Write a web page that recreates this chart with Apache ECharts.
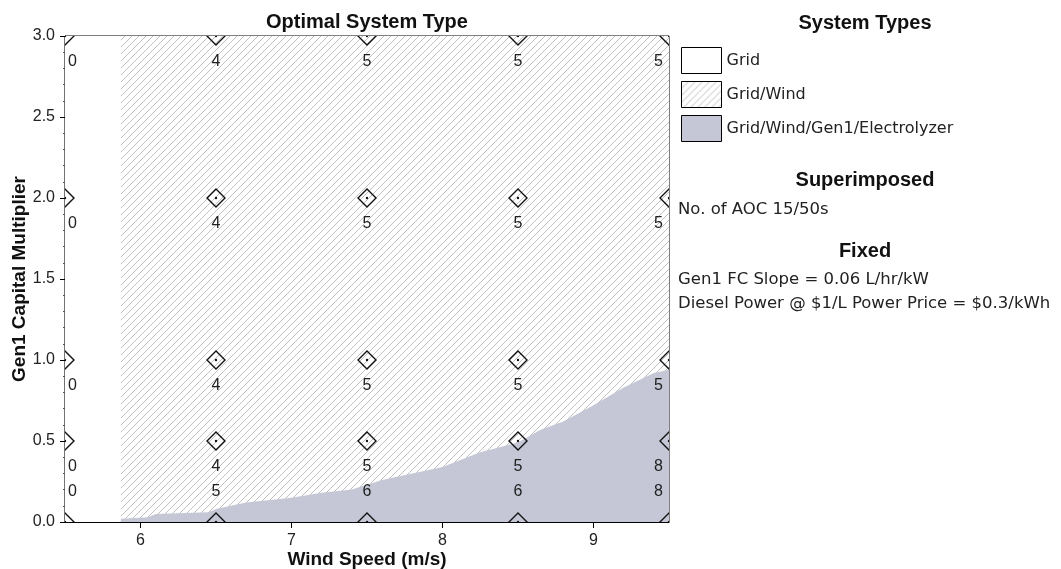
<!DOCTYPE html>
<html>
<head>
<meta charset="utf-8">
<script src="https://cdn.jsdelivr.net/npm/echarts@6/dist/echarts.min.js"></script>
<style>html,body{margin:0;padding:0;background:#fff;}#c{width:1061px;height:569px;}</style>
</head>
<body>
<div id="c"></div>
<script>
// ---- data ----
const windSpeeds = [5.5, 6.5, 7.5, 8.5, 9.5];           // sensitivity grid, m/s
const capMultipliers = [0.0, 0.5, 1.0, 2.0, 3.0];        // Gen1 capital multiplier rows
const aocRow00 = [0, 5, 6, 6, 8];
const aocRow05 = [0, 4, 5, 5, 8];
const aocRow10 = [0, 4, 5, 5, 5];
const aocRow20 = [0, 4, 5, 5, 5];
const aocRow30 = [0, 4, 5, 5, 5];
const aocRows = [aocRow00, aocRow05, aocRow10, aocRow20, aocRow30];

const gridOnlyWind = [5.5, 5.87];
const gridOnlyTop = [3.0, 3.0];
const gridWindWind = [5.87, 9.5];
const gridWindTop = [3.0, 3.0];
// upper boundary of the Grid/Wind/Gen1/Electrolyzer region
const elecWind = [5.87, 6.05, 6.1, 6.45, 6.5, 6.7, 7.0, 7.2, 7.4, 7.6, 7.8, 8.0, 8.25, 8.5, 8.65, 8.8, 9.0, 9.2, 9.4, 9.5];
const elecTop  = [0.02, 0.03, 0.05, 0.06, 0.08, 0.12, 0.15, 0.18, 0.2, 0.26, 0.3, 0.34, 0.43, 0.49, 0.57, 0.62, 0.72, 0.83, 0.92, 0.94];

const FONT = '"Liberation Sans", Arial, sans-serif';
const TFONT = '"DejaVu Sans", "Liberation Sans", sans-serif';

function zip(a, b) { return a.map((v, i) => [v, b[i]]); }

function hatchCanvas() {
  const s = 7, c = document.createElement('canvas');
  c.width = s; c.height = s;
  const g = c.getContext('2d');
  g.fillStyle = '#ffffff'; g.fillRect(0, 0, s, s);
  g.strokeStyle = '#b0b0b0'; g.lineWidth = 0.8;
  g.beginPath();
  g.moveTo(0, s); g.lineTo(s, 0);
  g.moveTo(-1, 1); g.lineTo(1, -1);
  g.moveTo(s - 1, s + 1); g.lineTo(s + 1, s - 1);
  g.stroke();
  return c;
}
const hatch = { image: hatchCanvas(), repeat: 'repeat' };
const elecColor = '#c5c7d6';

const pointData = [];
capMultipliers.forEach((y, r) => {
  windSpeeds.forEach((x, i) => pointData.push([x, y, aocRows[r][i]]));
});

const xMin = 5.5, xMax = 9.5;

const chart = echarts.init(document.getElementById('c'), null, { renderer: 'canvas' });
chart.setOption({
  animation: false,
  backgroundColor: '#fff',
  grid: { left: 65, right: 392, top: 36, bottom: 47, outerBoundsMode: 'none', containLabel: false,
          show: true, borderColor: '#000', borderWidth: 1, backgroundColor: '#fff' },
  xAxis: {
    type: 'value', min: xMin, max: xMax,
    name: 'Wind Speed (m/s)', nameLocation: 'middle', nameGap: 28, nameMoveOverlap: false,
    nameTextStyle: { fontFamily: FONT, fontSize: 19, fontWeight: 'bold', color: '#111' },
    axisLine: { lineStyle: { color: '#000', width: 1.2 } },
    axisTick: { length: 6, lineStyle: { color: '#000' } },
    axisLabel: { fontFamily: FONT, fontSize: 16, color: '#222', margin: 11, showMinLabel: false, showMaxLabel: false },
    splitLine: { show: false }
  },
  yAxis: {
    type: 'value', min: 0, max: 3, interval: 0.5,
    name: 'Gen1 Capital Multiplier', nameLocation: 'middle', nameGap: 36, nameMoveOverlap: false,
    nameTextStyle: { fontFamily: FONT, fontSize: 19, fontWeight: 'bold', color: '#111' },
    axisLine: { lineStyle: { color: '#000', width: 1.2 } },
    axisTick: { length: 5, lineStyle: { color: '#000' } },
    minorTick: { show: true, splitNumber: 5, length: 2, lineStyle: { color: '#555' } },
    axisLabel: { fontFamily: FONT, fontSize: 16, color: '#222', margin: 10, formatter: v => v.toFixed(1) },
    splitLine: { show: false }
  },
  legend: {
    orient: 'vertical', left: 681, top: 47, itemWidth: 40, itemHeight: 26, itemGap: 7,
    icon: 'rect', selectedMode: false, padding: 0,
    textStyle: { fontFamily: TFONT, fontSize: 16, color: '#222' },
    data: [
      { name: 'Grid', itemStyle: { color: '#fff', borderColor: '#000', borderWidth: 1 } },
      { name: 'Grid/Wind', itemStyle: { color: hatch, borderColor: '#000', borderWidth: 1 } },
      { name: 'Grid/Wind/Gen1/Electrolyzer', itemStyle: { color: elecColor, borderColor: '#000', borderWidth: 1 } }
    ]
  },
  graphic: [
    { type: 'text', x: 367, y: 22, style: { text: 'Optimal System Type', font: 'bold 20px ' + FONT, fill: '#111', align: 'center', verticalAlign: 'middle' } },
    { type: 'text', x: 865, y: 23, style: { text: 'System Types', font: 'bold 20px ' + FONT, fill: '#111', align: 'center', verticalAlign: 'middle' } },
    { type: 'text', x: 865, y: 180, style: { text: 'Superimposed', font: 'bold 20px ' + FONT, fill: '#111', align: 'center', verticalAlign: 'middle' } },
    { type: 'text', x: 678, y: 210, style: { text: 'No. of AOC 15/50s', font: '16.5px ' + TFONT, fill: '#222', align: 'left', verticalAlign: 'middle' } },
    { type: 'text', x: 865, y: 251, style: { text: 'Fixed', font: 'bold 20px ' + FONT, fill: '#111', align: 'center', verticalAlign: 'middle' } },
    { type: 'text', x: 678, y: 280, style: { text: 'Gen1 FC Slope = 0.06 L/hr/kW', font: '16.5px ' + TFONT, fill: '#222', align: 'left', verticalAlign: 'middle' } },
    { type: 'text', x: 678, y: 304, style: { text: 'Diesel Power @ $1/L Power Price = $0.3/kWh', font: '16.5px ' + TFONT, fill: '#222', align: 'left', verticalAlign: 'middle' } }
  ],
  series: [
    {
      name: 'Grid', type: 'line', data: zip(gridOnlyWind, gridOnlyTop), symbol: 'none',
      lineStyle: { width: 0 }, areaStyle: { color: '#fff', opacity: 1 }, itemStyle: { color: '#fff' }, z: 1
    },
    {
      name: 'Grid/Wind', type: 'line', data: zip(gridWindWind, gridWindTop), symbol: 'none',
      lineStyle: { width: 0 }, areaStyle: { color: hatch, opacity: 1 }, itemStyle: { color: '#aaa' }, z: 2
    },
    {
      name: 'Grid/Wind/Gen1/Electrolyzer', type: 'line', data: zip(elecWind, elecTop), symbol: 'none',
      lineStyle: { width: 0 }, areaStyle: { color: elecColor, opacity: 1 }, itemStyle: { color: elecColor }, z: 3
    },
    {
      name: 'AOC', type: 'custom', clip: true, z: 5, data: pointData,
      renderItem: function (params, api) {
        const x = api.value(0), y = api.value(1), n = api.value(2);
        const p = api.coord([x, y]);
        const w = 9, h = 9;
        let align = 'center', tx = p[0];
        if (x === xMin) { align = 'left'; tx = p[0] + 3; }
        else if (x === xMax) { align = 'right'; tx = p[0] - 6; }
        const ty = y === 0 ? p[1] - 30 : p[1] + 26;
        return {
          type: 'group',
          children: [
            { type: 'polygon', shape: { points: [[p[0], p[1] - h], [p[0] + w, p[1]], [p[0], p[1] + h], [p[0] - w, p[1]]] },
              style: { fill: 'none', stroke: '#111', lineWidth: 1.4 } },
            { type: 'circle', shape: { cx: p[0], cy: p[1], r: 1.2 }, style: { fill: '#111' } },
            { type: 'text', x: tx, y: ty, style: { text: String(n), font: '16px ' + FONT, fill: '#222', align: align, verticalAlign: 'middle' } }
          ]
        };
      }
    }
  ]
});
</script>
</body>
</html>
